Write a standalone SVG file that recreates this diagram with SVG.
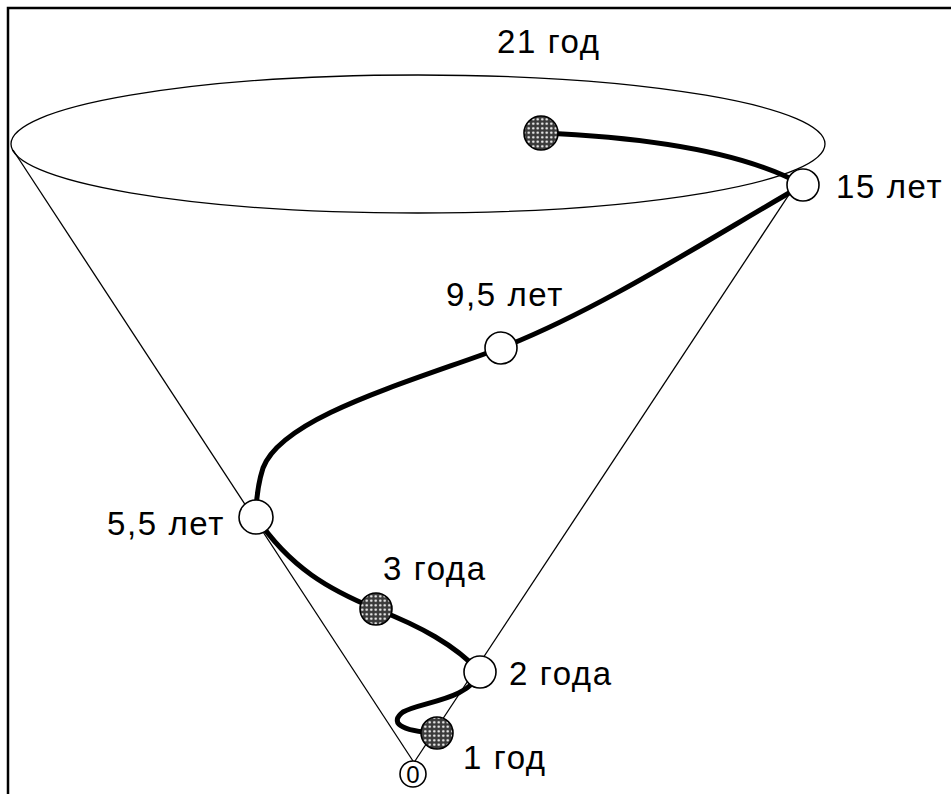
<svg xmlns="http://www.w3.org/2000/svg" width="951" height="794" viewBox="0 0 951 794">
<defs>
<pattern id="dots" patternUnits="userSpaceOnUse" width="4.5" height="4.5">
<rect width="4.5" height="4.5" fill="#3a3a3a"/>
<circle cx="2.25" cy="2.25" r="1.2" fill="#ffffff"/>
</pattern>
</defs>
<style>
.thin{fill:none;stroke:#000;stroke-width:1.3}
.thick{fill:none;stroke:#000;stroke-width:5;stroke-linecap:round}
.open{fill:#fff;stroke:#000;stroke-width:1.6}
.shade{fill:url(#dots);stroke:#000;stroke-width:1.6}
.lbl{font-family:"Liberation Sans",Arial,sans-serif;font-size:33px;letter-spacing:1.6px;fill:#000}
</style>
<rect width="951" height="794" fill="#fff"/>
<path d="M8 794 V8 H951" fill="none" stroke="#000" stroke-width="2.5"/>
<g id="cone">
<ellipse cx="418" cy="144" rx="407" ry="69" class="thin"/>
<line x1="13" y1="150" x2="413" y2="761" class="thin"/>
<line x1="800" y1="178" x2="415" y2="761" class="thin"/>
</g>
<g id="connectors">
<path class="thick" d="M541 133 C640 137 740 150 803 185"/>
<path class="thick" d="M803 185 C720 232 600 310 501 348 C400 385 282 418 263 468 Q256 490 256 517"/>
<path class="thick" d="M256 517 C290 568 330 590 376 609 C420 626 455 645 480 672"/>
<path class="thick" d="M480 672 C470 700 420 702 403 712 C390 722 398 731 437 733"/>
</g>
<g id="n21"><circle cx="541" cy="133" r="17" class="shade"/><text class="lbl" x="497" y="53">21 год</text></g>
<g id="n15"><circle cx="803" cy="185" r="16" class="open"/><text class="lbl" x="836" y="198">15 лет</text></g>
<g id="n95"><circle cx="501" cy="348" r="16" class="open"/><text class="lbl" x="446" y="306">9,5 лет</text></g>
<g id="n55"><circle cx="256" cy="517" r="17" class="open"/><text class="lbl" x="107" y="535">5,5 лет</text></g>
<g id="n3"><circle cx="376" cy="609" r="16" class="shade"/><text class="lbl" x="383" y="580">3 года</text></g>
<g id="n2"><circle cx="480" cy="672" r="16" class="open"/><text class="lbl" x="509" y="685">2 года</text></g>
<g id="n1"><circle cx="437" cy="733" r="16" class="shade"/><text class="lbl" x="463" y="769">1 год</text></g>
<g id="n0"><circle cx="413" cy="774" r="13" class="open"/><text x="413" y="783" text-anchor="middle" font-family="Liberation Sans, Arial, sans-serif" font-size="24">0</text></g>
</svg>
